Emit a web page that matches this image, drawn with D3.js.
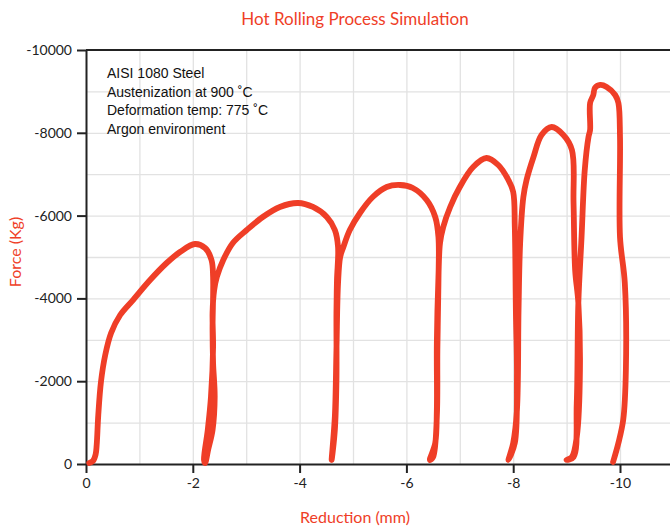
<!DOCTYPE html>
<meta charset="utf-8">
<style>
	body { margin: 0; background: #fff; }
	.grid line { stroke: #e2e2e2; stroke-width: 1.3; }
	.grid path { display: none; }
	.axis path, .axis line { stroke: #222; stroke-width: 2; }
	.axis text { font-family: Lato, "Open Sans", sans-serif; font-size: 14px; fill: #222; }
	.title, .label { font-family: Lato, "Open Sans", sans-serif; fill: #ef3e27; }
	.note { font-family: "Liberation Sans", Arial, sans-serif; font-size: 14px; fill: #111; }
	.curve { fill: none; stroke: #ef3e27; stroke-width: 5.8; stroke-linejoin: round; stroke-linecap: round; }
</style>
<body>
<div id="chart"></div>
<script src="https://cdn.jsdelivr.net/npm/d3@7"></script>
<script>
	// each pass: [reduction (mm), force (Kg)]
	const pass1 = [[-0.06, -24], [-0.13, -72], [-0.18, -230], [-0.20, -459], [-0.23, -1184], [-0.28, -1981],
		[-0.36, -2633], [-0.47, -3164], [-0.64, -3599], [-0.88, -3961], [-1.20, -4444], [-1.51, -4855],
		[-1.76, -5121], [-2.04, -5314], [-2.23, -5217], [-2.35, -4928], [-2.38, -4517], [-2.37, -3237],
		[-2.38, -2440], [-2.41, -1618], [-2.37, -821], [-2.29, -360], [-2.23, -24]];
	const pass2 = [[-2.21, -97], [-2.28, -821], [-2.34, -1618], [-2.38, -2826], [-2.37, -3647], [-2.40, -4203],
		[-2.45, -4517], [-2.57, -4928], [-2.75, -5338], [-3.01, -5652], [-3.31, -5966], [-3.63, -6208],
		[-3.97, -6304], [-4.25, -6208], [-4.51, -5966], [-4.66, -5652], [-4.72, -5242], [-4.70, -4444],
		[-4.69, -3647], [-4.69, -2029], [-4.66, -821], [-4.60, -97]];
	const pass3 = [[-4.66, -1143], [-4.69, -2754], [-4.72, -4372], [-4.76, -5000], [-4.82, -5242],
		[-4.94, -5652], [-5.13, -6063], [-5.37, -6449], [-5.63, -6691], [-5.88, -6739], [-6.12, -6667],
		[-6.38, -6377], [-6.54, -5966], [-6.60, -5483], [-6.60, -4372], [-6.58, -2754], [-6.57, -1143],
		[-6.50, -169]];
	const pass4 = [[-6.44, -97], [-6.54, -507], [-6.57, -1304], [-6.57, -2923], [-6.60, -4517], [-6.63, -5338],
		[-6.69, -5725], [-6.82, -6208], [-7.00, -6691], [-7.25, -7174], [-7.50, -7391], [-7.72, -7222],
		[-7.91, -6860], [-8.00, -6570], [-8.03, -5725], [-8.05, -3720], [-8.07, -2101], [-8.03, -507],
		[-7.91, -97]];
	const pass5 = [[-8.00, -507], [-8.07, -1304], [-8.10, -3720], [-8.13, -5338], [-8.19, -6449],
		[-8.25, -6860], [-8.38, -7415], [-8.53, -7947], [-8.72, -8140], [-8.94, -7947], [-9.10, -7585],
		[-9.13, -6304], [-9.16, -4686], [-9.22, -3889], [-9.25, -2271], [-9.19, -652], [-9.10, -169],
		[-9.00, -97]];
	const pass6 = [[-9.13, -169], [-9.19, -1473], [-9.22, -3889], [-9.28, -5483], [-9.34, -7101],
		[-9.41, -7899], [-9.44, -8068], [-9.44, -8720], [-9.50, -8913], [-9.53, -9082], [-9.63, -9155],
		[-9.75, -9106], [-9.91, -8913], [-9.97, -8720], [-10.00, -7899], [-10.00, -5483], [-10.09, -4372],
		[-10.11, -2271], [-10.06, -1063], [-9.97, -507], [-9.87, -48]];

	const xTicks = [0, -2, -4, -6, -8, -10];
	const yTicks = [0, -2000, -4000, -6000, -8000, -10000];
	const notes = ["AISI 1080 Steel", "Austenization at 900 \u02daC", "Deformation temp: 775 \u02daC", "Argon environment"];

	const width = 670, height = 526;
	const marginLeft = 86, plotTop = 50, plotBottom = 464;

	const svg = d3.select("#chart").append("svg")
		.attr("width", width)
		.attr("height", height);

	const x = d3.scaleLinear().domain([0, -11]).range([marginLeft, marginLeft + 11 * 53.4]);
	const y = d3.scaleLinear().domain([0, -10000]).range([plotBottom, plotTop]);

	// grid
	svg.append("g")
		.attr("class", "grid")
		.attr("transform", `translate(0, ${plotBottom})`)
		.call(d3.axisBottom(x).tickValues(d3.range(-1, -11, -1)).tickSize(-(plotBottom - plotTop)).tickFormat(""));
	svg.append("g")
		.attr("class", "grid")
		.attr("transform", `translate(${marginLeft}, 0)`)
		.call(d3.axisLeft(y).tickValues(d3.range(-1000, -10000, -1000)).tickSize(-(width - marginLeft)).tickFormat(""));

	// top frame line
	svg.append("line")
		.attr("x1", marginLeft).attr("x2", width)
		.attr("y1", y(-10000)).attr("y2", y(-10000))
		.attr("stroke", "#222").attr("stroke-width", 2);

	svg.append("g")
		.attr("class", "axis")
		.attr("transform", `translate(0, ${plotBottom})`)
		.call(d3.axisBottom(x).tickValues(xTicks).tickSize(9).tickPadding(5).tickSizeOuter(0).tickFormat(d => String(d)));

	svg.append("g")
		.attr("class", "axis")
		.attr("transform", `translate(${marginLeft}, 0)`)
		.call(d3.axisLeft(y).tickValues(yTicks).tickSize(9).tickPadding(5).tickSizeOuter(0).tickFormat(d => String(d)));

	// the curve
	const curve = [].concat(pass1, pass2, pass3, pass4, pass5, pass6);
	const line = d3.line()
		.x(d => x(d[0]))
		.y(d => y(d[1]))
		.curve(d3.curveCatmullRom.alpha(0.5));

	svg.append("path")
		.attr("class", "curve")
		.attr("d", line(curve));

	// texts
	svg.append("text")
		.attr("class", "title")
		.attr("x", 355).attr("y", 25)
		.attr("text-anchor", "middle")
		.style("font-size", "17px")
		.text("Hot Rolling Process Simulation");

	svg.append("text")
		.attr("class", "label")
		.attr("x", 355).attr("y", 523)
		.attr("text-anchor", "middle")
		.style("font-size", "16px")
		.text("Reduction (mm)");

	svg.append("text")
		.attr("class", "label")
		.attr("transform", "translate(21, 252) rotate(-90)")
		.attr("text-anchor", "middle")
		.style("font-size", "16px")
		.text("Force (Kg)");

	svg.append("g")
		.selectAll("text")
		.data(notes)
		.join("text")
		.attr("class", "note")
		.attr("x", 107)
		.attr("y", (d, i) => 78 + i * 18.5)
		.text(d => d);
</script>
</body>
